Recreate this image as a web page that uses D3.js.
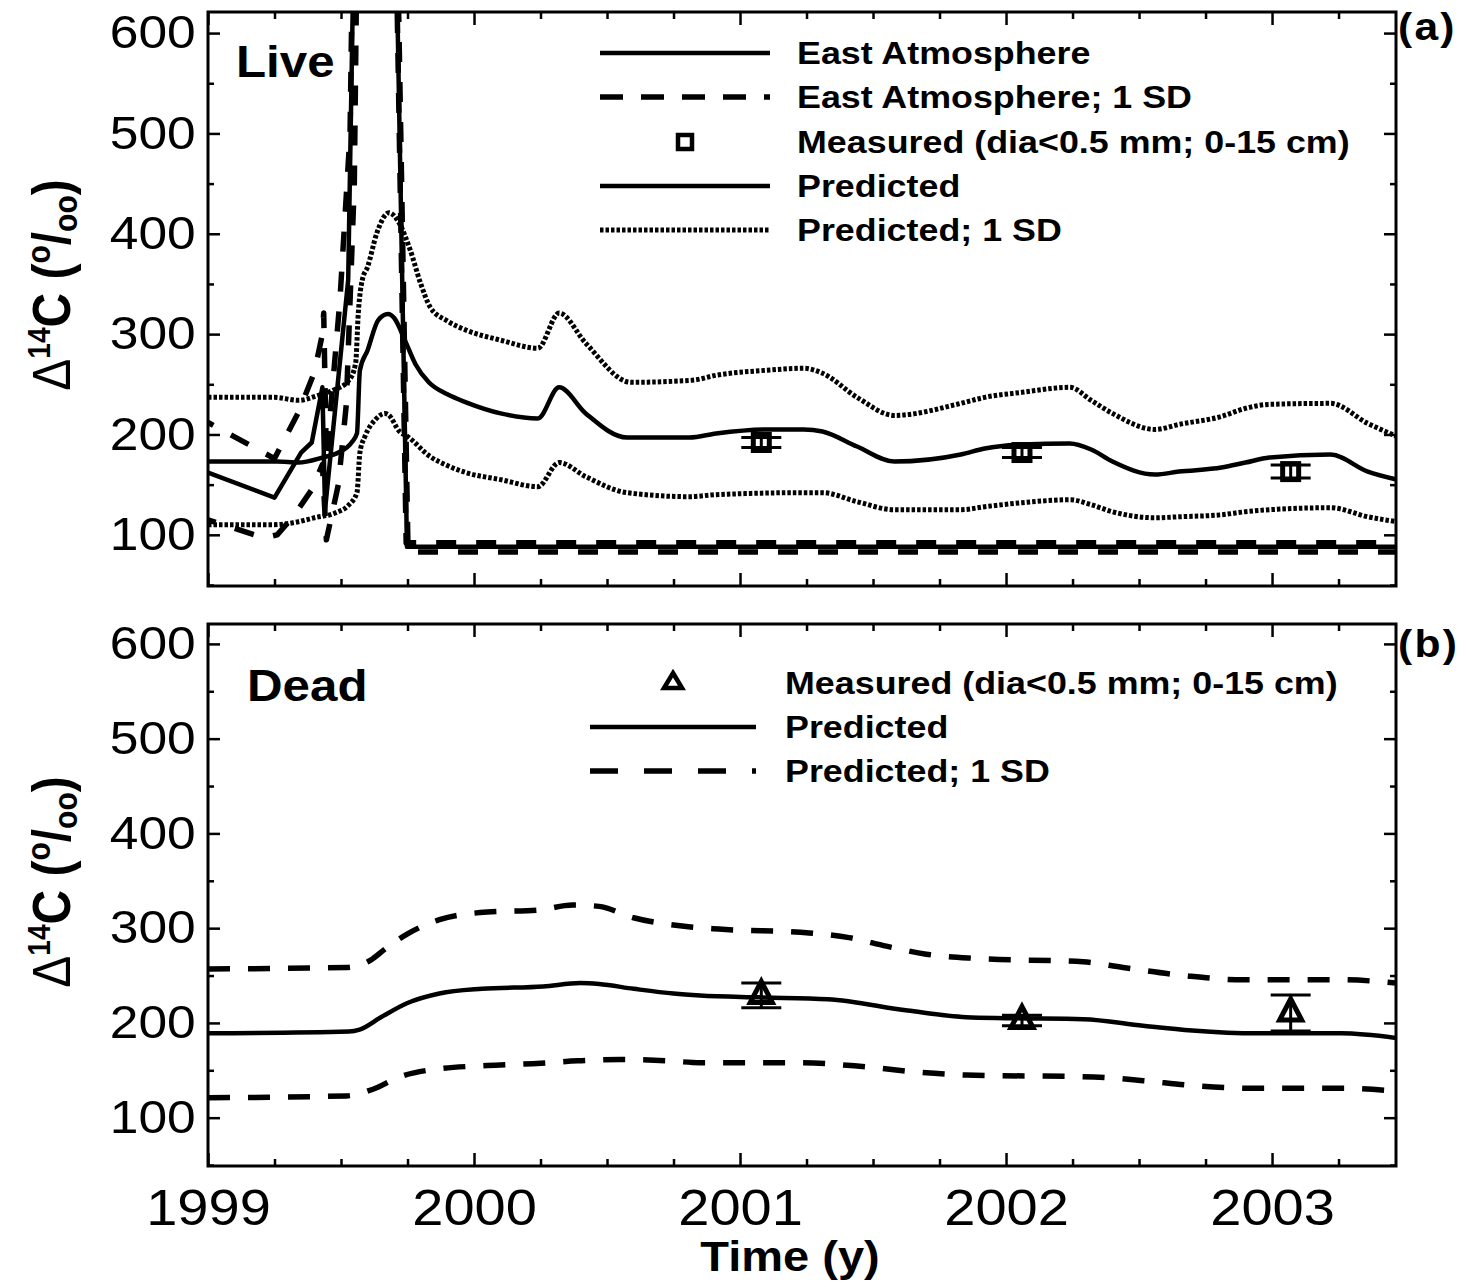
<!DOCTYPE html>
<html>
<head>
<meta charset="utf-8">
<script src="https://cdn.jsdelivr.net/npm/d3@7"></script>
<style>
  body { margin: 0; background: #fff; }
  text { font-family: 'Liberation Sans', Arial, Helvetica, sans-serif; fill: #000; }
</style>
</head>
<body>
<svg id="chart" width="1466" height="1287"></svg>
<script>
// ---- data (year, delta14C per mil) ----
const xTickYears = [1999, 2000, 2001, 2002, 2003];
const xMinorYears = [1999.25, 1999.5, 1999.75, 2000.25, 2000.5, 2000.75, 2001.25, 2001.5, 2001.75,
                     2002.25, 2002.5, 2002.75, 2003.25];
const yTicks = [100, 200, 300, 400, 500, 600];
const yMinor = [50, 150, 250, 350, 450, 550];

// (a) Live
const eastAtm = [[1999.00,162],[1999.25,137],[1999.35,182],[1999.39,192],[1999.43,247],[1999.44,125],
  [1999.527,354],[1999.555,800],[1999.70,800],[1999.748,88],[2003.47,88]];
const eastAtmHi = [[1999.00,212],[1999.25,176],[1999.34,222],[1999.40,262],[1999.43,300],[1999.435,321],
  [1999.445,175],[1999.496,334],[1999.534,500],[1999.55,800],[1999.70,800],[1999.745,92],[2003.47,92]];
const eastAtmLo = [[1999.00,115],[1999.21,97],[1999.26,100],[1999.32,118],[1999.39,145],[1999.43,170],
  [1999.445,95],[1999.49,150],[1999.52,230],[1999.55,450],[1999.565,800],[1999.705,800],[1999.752,83],[2003.47,83]];
const predLive = [[1999.00,173],[1999.26,173],[1999.34,172],[1999.43,177],[1999.49,182],[1999.54,192],
  [1999.56,201],[1999.571,264],[1999.60,284],[1999.64,314],[1999.677,320],[1999.70,316],[1999.74,294],
  [1999.78,270],[1999.83,252],[1999.90,240],[1999.97,232],[2000.10,221],[2000.24,216],[2000.32,247],
  [2000.42,221],[2000.575,197],[2000.81,197],[2000.91,201],[2001.10,205],[2001.24,205],[2001.31,203],
  [2001.44,188],[2001.58,173],[2001.83,180],[2001.92,186],[2002.06,190],[2002.24,191],[2002.32,185],
  [2002.40,173],[2002.56,160],[2002.65,163],[2002.81,167],[2002.90,172],[2002.99,177],[2003.22,180],
  [2003.36,163],[2003.47,155]];
const predLiveHi = [[1999.00,237],[1999.25,237],[1999.34,234],[1999.415,239],[1999.47,244],[1999.53,254],
  [1999.555,271],[1999.565,321],[1999.58,354],[1999.60,367],[1999.635,401],[1999.68,421],[1999.72,410],
  [1999.76,384],[1999.80,350],[1999.835,327],[1999.90,313],[1999.97,304],[2000.10,294],[2000.24,286],
  [2000.32,321],[2000.42,291],[2000.59,252],[2000.82,254],[2000.91,259],[2001.10,264],[2001.24,266],
  [2001.31,261],[2001.44,237],[2001.58,219],[2001.83,231],[2001.92,237],[2002.06,242],[2002.24,247],
  [2002.32,234],[2002.40,221],[2002.56,205],[2002.65,210],[2002.81,218],[2002.90,226],[2002.99,230],
  [2003.22,231],[2003.36,211],[2003.47,198]];
const predLiveLo = [[1999.00,110],[1999.24,110],[1999.32,112],[1999.40,117],[1999.48,122],[1999.53,130],
  [1999.56,142],[1999.571,182],[1999.59,198],[1999.63,215],[1999.665,221],[1999.677,220],[1999.72,203],
  [1999.75,198],[1999.835,178],[1999.90,169],[1999.97,162],[2000.10,155],[2000.24,148],[2000.32,172],
  [2000.42,158],[2000.575,142],[2000.81,138],[2000.91,140],[2001.24,142],[2001.31,142],[2001.44,133],
  [2001.58,125],[2001.83,125],[2001.92,128],[2002.06,132],[2002.24,135],[2002.32,130],[2002.40,123],
  [2002.56,117],[2002.65,118],[2002.81,120],[2002.90,123],[2002.99,125],[2003.22,127],[2003.36,118],
  [2003.47,113]];
const measYears = [2001.08, 2002.06, 2003.07];
const measLive = [192, 182, 163];
const measLiveErr = [5, 5, 6.5];

// (b) Dead
const predDead = [[1999.00,189],[1999.53,191],[1999.57,193],[1999.65,206],[1999.75,221],[1999.87,231],
  [2000.03,236],[2000.26,238.5],[2000.40,242],[2000.47,241],[2000.60,236],[2000.75,231],[2000.85,229],
  [2001.07,227],[2001.33,225],[2001.63,213],[2001.85,206],[2002.00,205],[2002.29,204],[2002.515,197],
  [2002.70,192],[2002.94,189],[2003.26,189],[2003.47,184]];
const predDeadHi = [[1999.00,257],[1999.52,258.5],[1999.61,266],[1999.67,279],[1999.75,294],[1999.87,309],
  [2000.05,317],[2000.24,319],[2000.37,324.5],[2000.47,323],[2000.60,311],[2000.79,302],[2000.92,299],
  [2001.26,295],[2001.41,290],[2001.55,281],[2001.70,272.5],[2001.89,268],[2002.29,264.5],[2002.44,258.5],
  [2002.67,250],[2002.89,245.5],[2003.26,245.5],[2003.47,242]];
const predDeadLo = [[1999.00,121],[1999.52,123],[1999.62,130],[1999.72,143],[1999.85,151],[2000.05,155],
  [2000.22,157],[2000.39,160],[2000.55,161.5],[2000.73,160],[2000.85,158],[2001.22,158],[2001.46,154],
  [2001.67,148],[2001.85,145],[2002.33,143],[2002.515,139],[2002.70,134],[2002.94,131],[2003.26,131],
  [2003.47,128]];
const measDead = [229, 202.5, 210.5];
const measDeadErr = [13, 5.5, 19];

const legendLive = ['East Atmosphere', 'East Atmosphere; 1 SD', 'Measured (dia<0.5 mm; 0-15 cm)', 'Predicted', 'Predicted; 1 SD'];
const legendDead = ['Measured (dia<0.5 mm; 0-15 cm)', 'Predicted', 'Predicted; 1 SD'];

// ---- layout ----
const SX = 1.12; // the original figure is stretched a little horizontally
const svg = d3.select('#chart');
const left = 208, right = 1396;
const x = d3.scaleLinear().domain([1999, 2003.466]).range([left, right]);
const ya = d3.scaleLinear().domain([49, 621]).range([586, 12]);
const yb = d3.scaleLinear().domain([49, 621]).range([1166, 624]);
const DOTS = '3.5,2';

function addText(parent, tx, ty, str, size, weight, anchor) {
  return parent.append('text')
    .attr('transform', 'translate(' + tx + ',' + ty + ') scale(' + SX + ',1)')
    .attr('text-anchor', anchor || 'start')
    .style('font-size', size + 'px')
    .style('font-weight', weight || 'normal')
    .text(str);
}

function styleAxis(g) {
  g.select('.domain').remove();
  g.selectAll('line').attr('stroke', '#000').attr('stroke-width', 2.5);
  g.attr('font-family', null).attr('font-size', null);
}

function drawFrame(y, id, showXLabels) {
  const top = y.range()[1], bottom = y.range()[0];
  const g = svg.append('g');
  svg.append('clipPath').attr('id', id).append('rect')
    .attr('x', left).attr('y', top).attr('width', right - left).attr('height', bottom - top);

  // y axes, ticks pointing inward
  g.append('g').attr('transform', 'translate(' + left + ',0)')
    .call(d3.axisLeft(y).tickValues(yTicks).tickSize(-12).tickPadding(11).tickFormat(d3.format('d')))
    .call(styleAxis)
    .selectAll('text').attr('transform', 'scale(' + SX + ',1)').style('font-size', '46px');
  g.append('g').attr('transform', 'translate(' + left + ',0)')
    .call(d3.axisLeft(y).tickValues(yMinor).tickSize(-6).tickFormat('')).call(styleAxis);
  g.append('g').attr('transform', 'translate(' + right + ',0)')
    .call(d3.axisRight(y).tickValues(yTicks).tickSize(-12).tickFormat('')).call(styleAxis);
  g.append('g').attr('transform', 'translate(' + right + ',0)')
    .call(d3.axisRight(y).tickValues(yMinor).tickSize(-6).tickFormat('')).call(styleAxis);

  // x axes
  g.append('g').attr('transform', 'translate(0,' + bottom + ')')
    .call(d3.axisBottom(x).tickValues(xTickYears).tickSize(-13).tickPadding(24)
      .tickFormat(showXLabels ? d3.format('d') : ''))
    .call(styleAxis)
    .selectAll('text').attr('transform', 'scale(' + SX + ',1)').style('font-size', '50px');
  g.append('g').attr('transform', 'translate(0,' + bottom + ')')
    .call(d3.axisBottom(x).tickValues(xMinorYears).tickSize(-7).tickFormat('')).call(styleAxis);
  g.append('g').attr('transform', 'translate(0,' + top + ')')
    .call(d3.axisTop(x).tickValues(xTickYears).tickSize(-13).tickFormat('')).call(styleAxis);
  g.append('g').attr('transform', 'translate(0,' + top + ')')
    .call(d3.axisTop(x).tickValues(xMinorYears).tickSize(-7).tickFormat('')).call(styleAxis);

  g.append('rect').attr('x', left).attr('y', top).attr('width', right - left).attr('height', bottom - top)
    .attr('fill', 'none').attr('stroke', '#000').attr('stroke-width', 3);
  return g;
}

function drawLine(y, data, clip, opts) {
  const gen = d3.line().x(d => x(d[0])).y(d => y(d[1])).curve(opts.curve || d3.curveLinear);
  const p = svg.append('path').datum(data)
    .attr('clip-path', 'url(#' + clip + ')')
    .attr('d', gen)
    .attr('fill', 'none').attr('stroke', '#000')
    .attr('stroke-width', opts.width || 4.5)
    .attr('stroke-linejoin', 'round')
    .attr('stroke-dasharray', opts.dash || null);
  if (opts.phase != null) {
    // line up the dash pattern on the long flat tail of the series
    const n = data.length;
    const tail = Math.hypot(x(data[n - 1][0]) - x(data[n - 2][0]), y(data[n - 1][1]) - y(data[n - 2][1]));
    const s = p.node().getTotalLength() - tail;
    p.attr('stroke-dashoffset', opts.phase - s);
  }
  return p;
}

function errorBars(y, years, vals, errs) {
  const g = svg.append('g').attr('stroke', '#000').attr('stroke-width', 3);
  years.forEach((yr, i) => {
    const cx = x(yr);
    g.append('line').attr('x1', cx).attr('x2', cx).attr('y1', y(vals[i] + errs[i])).attr('y2', y(vals[i] - errs[i]));
    g.append('line').attr('x1', cx - 20).attr('x2', cx + 20).attr('y1', y(vals[i] + errs[i])).attr('y2', y(vals[i] + errs[i]));
    g.append('line').attr('x1', cx - 20).attr('x2', cx + 20).attr('y1', y(vals[i] - errs[i])).attr('y2', y(vals[i] - errs[i]));
  });
}

function square(cx, cy, s, w) {
  svg.append('rect').attr('x', cx - s / 2).attr('y', cy - s / 2).attr('width', s).attr('height', s)
    .attr('fill', 'none').attr('stroke', '#000').attr('stroke-width', w || 5);
}
function triangle(cx, cy, w, h, sw) {
  // centroid at (cx, cy)
  const p = [[cx, cy - 2 * h / 3], [cx + w / 2, cy + h / 3], [cx - w / 2, cy + h / 3]];
  svg.append('path').attr('d', 'M' + p.map(q => q.join(',')).join('L') + 'Z')
    .attr('fill', 'none').attr('stroke', '#000').attr('stroke-width', sw || 5).attr('stroke-linejoin', 'miter');
}

// ---- panel (a) Live ----
drawFrame(ya, 'clipA', false);
drawLine(ya, eastAtmHi, 'clipA', { dash: '20,20', width: 5.5, phase: 10 });
drawLine(ya, eastAtmLo, 'clipA', { dash: '20,20', width: 5.5, phase: 30 });
drawLine(ya, eastAtm, 'clipA', { width: 4.5 });
drawLine(ya, predLiveHi, 'clipA', { dash: DOTS, width: 5, curve: d3.curveMonotoneX });
drawLine(ya, predLiveLo, 'clipA', { dash: DOTS, width: 5, curve: d3.curveMonotoneX });
drawLine(ya, predLive, 'clipA', { width: 4.5, curve: d3.curveMonotoneX });
errorBars(ya, measYears, measLive, measLiveErr);
measYears.forEach((yr, i) => square(x(yr), ya(measLive[i]), 16));

addText(svg, 236, 77, 'Live', 44, 'bold');
addText(svg, 1398, 40, '(a)', 38, 'bold').attr('letter-spacing', '2px');

// legend (a)
const legA = [53, 97, 142, 186, 230];
const legLine = (x1, x2, yy, dash, w) => svg.append('line').attr('x1', x1).attr('x2', x2).attr('y1', yy).attr('y2', yy)
  .attr('stroke', '#000').attr('stroke-width', w).attr('stroke-dasharray', dash || null);
legLine(600, 770, legA[0], null, 4.5);
legLine(600, 770, legA[1], '23,18', 5.5);
square(685, legA[2], 14, 4.5);
legLine(600, 770, legA[3], null, 4.5);
legLine(600, 770, legA[4], DOTS, 5);
legendLive.forEach((s, i) => addText(svg, 797, legA[i] + 11, s, 32, 'bold'));

// ---- panel (b) Dead ----
drawFrame(yb, 'clipB', true);
drawLine(yb, predDeadHi, 'clipB', { dash: '22,18', width: 5.5, curve: d3.curveMonotoneX });
drawLine(yb, predDeadLo, 'clipB', { dash: '22,18', width: 5.5, curve: d3.curveMonotoneX });
drawLine(yb, predDead, 'clipB', { width: 4.5, curve: d3.curveMonotoneX });
errorBars(yb, measYears, measDead, measDeadErr);
measYears.forEach((yr, i) => triangle(x(yr), yb(measDead[i]), 22, 21, 5));

addText(svg, 247, 701, 'Dead', 44, 'bold');
addText(svg, 1398, 657, '(b)', 38, 'bold').attr('letter-spacing', '2px');

const legB = [683, 727, 771];
triangle(673, legB[0], 18, 15, 4.5);
legLine(590, 756, legB[1], null, 4.5);
legLine(590, 756, legB[2], '28,26', 5.5);
legendDead.forEach((s, i) => addText(svg, 785, legB[i] + 11, s, 32, 'bold'));

// ---- axis titles ----
function yTitle(cx, cy) {
  const t = svg.append('text')
    .attr('transform', 'translate(' + cx + ',' + cy + ') rotate(-90) scale(1,' + SX + ')')
    .attr('text-anchor', 'middle')
    .style('font-size', '48px').style('font-weight', 'bold');
  t.append('tspan').style('font-weight', 'normal').text('\u0394');
  t.append('tspan').attr('dy', -18).style('font-size', '28px').text('14');
  t.append('tspan').attr('dy', 18).text('C (');
  t.append('tspan').attr('dy', -18).style('font-size', '30px').text('o');
  t.append('tspan').attr('dy', 18).text('/');
  t.append('tspan').attr('dy', 6).style('font-size', '30px').text('oo');
  t.append('tspan').attr('dy', -6).text(')');
}
yTitle(70, 285);
yTitle(70, 882);
addText(svg, 790, 1271, 'Time (y)', 42, 'bold', 'middle');
</script>
</body>
</html>
